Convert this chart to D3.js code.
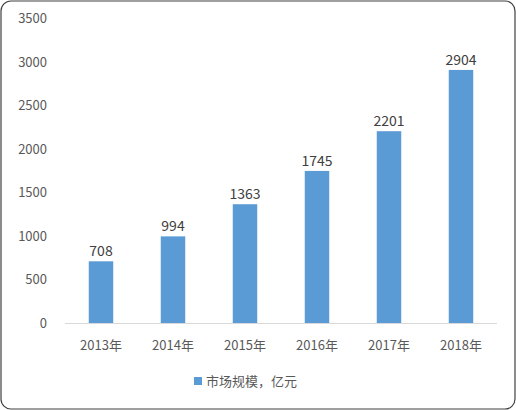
<!DOCTYPE html><html><head><meta charset="utf-8"><script src="https://cdn.jsdelivr.net/npm/d3@7"></script>
<style>body{margin:0;background:#fff}</style></head><body><script>
const categories=["2013年","2014年","2015年","2016年","2017年","2018年"];
const values=[708,994,1363,1745,2201,2904];
const yTicks=[0,500,1000,1500,2000,2500,3000,3500];
const seriesName="市场规模，亿元";
const W=516,H=410;
const svg=d3.select("body").append("svg").attr("width",W).attr("height",H);
svg.append("rect").attr("x",1).attr("y",1).attr("width",W-2).attr("height",H-2).attr("rx",10).attr("fill","#fff").attr("stroke","#404040").attr("stroke-width",1.2);
const font="'Noto Sans CJK SC','Noto Sans',sans-serif";
const x=d3.scaleBand().domain(categories).range([65,497]).paddingInner(0.66).paddingOuter(0.33);
const y=d3.scaleLinear().domain([0,3500]).range([323,18]);
const g=svg.append("g");
g.selectAll("text.yt").data(yTicks).enter().append("text").attr("x",47).attr("y",d=>y(d)+5).attr("text-anchor","end").attr("font-family",font).attr("font-size",13).attr("fill","#595959").text(d=>d);
g.append("line").attr("x1",65).attr("x2",497).attr("y1",y(0)+0.5).attr("y2",y(0)+0.5).attr("stroke","#d9d9d9");
g.selectAll("rect.bar").data(values).enter().append("rect").attr("x",(d,i)=>x(categories[i])).attr("width",x.bandwidth()).attr("y",d=>y(d)).attr("height",d=>y(0)-y(d)).attr("fill","#5b9bd5");
g.selectAll("text.v").data(values).enter().append("text").attr("x",(d,i)=>x(categories[i])+x.bandwidth()/2).attr("y",d=>y(d)-5).attr("text-anchor","middle").attr("font-family",font).attr("font-size",14).attr("fill","#404040").text(d=>d);
g.selectAll("text.xl").data(categories).enter().append("text").attr("x",d=>x(d)+x.bandwidth()/2).attr("y",350).attr("text-anchor","middle").attr("font-family",font).attr("font-size",13).attr("fill","#595959").text(d=>d);
svg.append("rect").attr("x",194).attr("y",377).attr("width",8).attr("height",8).attr("fill","#5b9bd5");
svg.append("text").attr("x",206).attr("y",386).attr("font-family",font).attr("font-size",13).attr("fill","#595959").text(seriesName);
</script></body></html>
